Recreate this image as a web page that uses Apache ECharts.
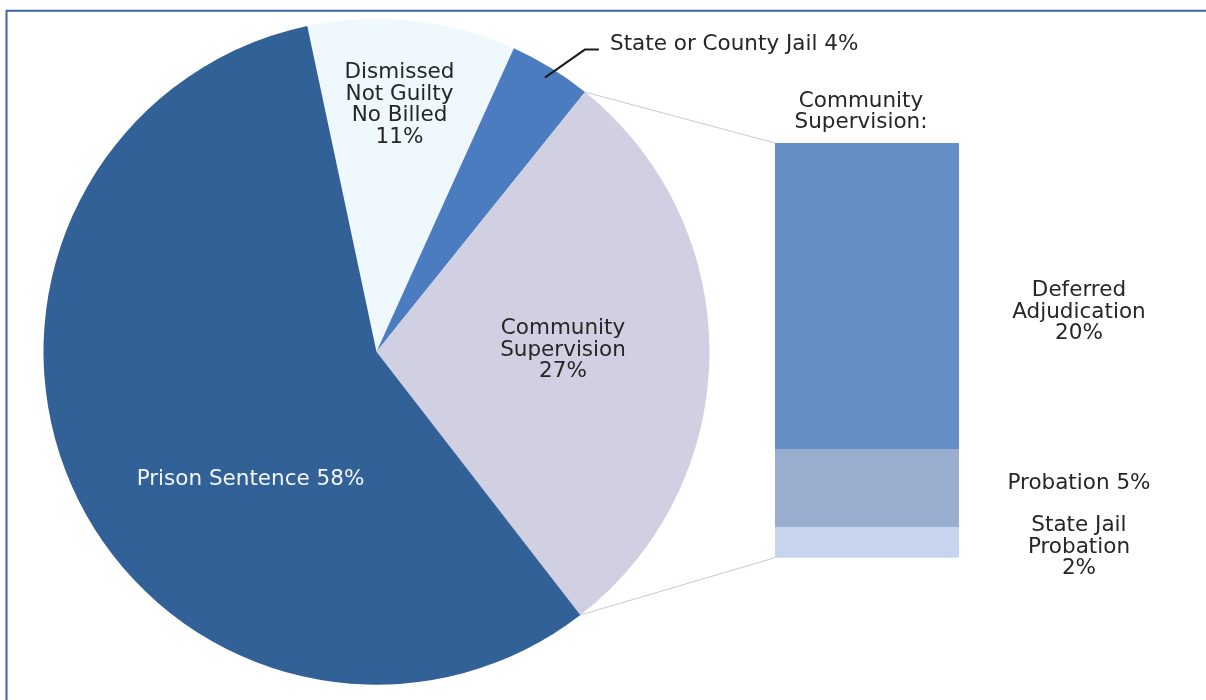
<!DOCTYPE html>
<html><head><meta charset="utf-8">
<script src="https://cdn.jsdelivr.net/npm/echarts@6/dist/echarts.min.js"></script>
<style>html,body{margin:0;padding:0;background:#fff}#c{width:1206px;height:700px}</style>
</head><body><div id="c"></div>
<script>
// ---- data ----
const pieNames = ['Dismissed\nNot Guilty\nNo Billed', 'State or County Jail', 'Community\nSupervision', 'Prison Sentence'];
const pieValues = [10.1, 4.0, 28.75, 57.15];
const pieLabels = ['11%', '4%', '27%', '58%'];
const barTitle = 'Community\nSupervision:';
const barNames = ['State Jail\nProbation', 'Probation', 'Deferred\nAdjudication']; // bottom to top
const barValues = [2.0, 5.1, 20.0];
const barLabels = ['2%', '5%', '20%'];

// ---- styles ----
const pieColors = ['#EFF8FC', '#4A7CBF', '#D1D0E2', '#326198'];
const pieTextColors = ['#262626', '#262626', '#262626', '#F4F6FA'];
const barColors = ['#C6D4EE', '#99ADCE', '#658EC6'];
const FONT = 'DejaVu Sans';
const FS = 21.5, LH = 21.5;
const CX = 376.5, CY = 351.7, R = 333, START = 102;
const GRID = {left: 775, top: 143, width: 184, height: 414.7};
const pieLabelPos = {0: [399.5, 105], 1: [610, 44], 2: [563, 350], 3: [250.5, 479]};
const pieLabelAlign = {0: 'center', 1: 'left', 2: 'center', 3: 'center'};
const barLabelOffset = [[0, 5], [0, -5], [0, 16]];

function lbl(name, pct) { return name + (name.indexOf('\n') >= 0 ? '\n' : ' ') + pct; }

const total = pieValues.reduce((a, b) => a + b, 0);
function angleAt(cum) { return (START - cum / total * 360) * Math.PI / 180; }
function boundary(k) {
  let cum = 0; for (let i = 0; i < k; i++) cum += pieValues[i];
  const a = angleAt(cum);
  return [CX + R * Math.cos(a), CY - R * Math.sin(a)];
}
const pTop = boundary(2), pBot = boundary(3);
// leader line for the small "jail" slice: starts just inside its mid-angle
const jailMid = angleAt(pieValues[0] + pieValues[1] / 2);
const lead0 = [CX + 0.966 * R * Math.cos(jailMid), CY - 0.966 * R * Math.sin(jailMid)];
const lead1 = [lead0[0] + 40, lead0[1] - 28];
const lead2 = [lead1[0] + 14, lead1[1]];
const barSum = barValues.reduce((a, b) => a + b, 0);

const chart = echarts.init(document.getElementById('c'), null, {renderer: 'canvas'});
chart.setOption({
  animation: false,
  backgroundColor: '#ffffff',
  textStyle: {fontFamily: FONT},
  grid: {left: GRID.left, top: GRID.top, width: GRID.width, height: GRID.height, containLabel: false},
  xAxis: {type: 'category', data: ['cs'], show: false},
  yAxis: {type: 'value', min: 0, max: barSum, show: false},
  graphic: [
    {type: 'rect', silent: true, z: -1, shape: {x: 6.5, y: 10.8, width: 1300, height: 800},
     style: {fill: 'none', stroke: '#3A66A3', lineWidth: 2}},
    {type: 'line', silent: true, shape: {x1: pTop[0], y1: pTop[1], x2: GRID.left, y2: GRID.top},
     style: {stroke: '#C9C7DD', lineWidth: 1}},
    {type: 'line', silent: true, shape: {x1: pBot[0], y1: pBot[1], x2: GRID.left, y2: GRID.top + GRID.height},
     style: {stroke: '#C9C7DD', lineWidth: 1}},
    {type: 'polyline', silent: true, z: 100, shape: {points: [lead0, lead1, lead2]},
     style: {stroke: '#1A1A1A', lineWidth: 2, fill: null}},
    {type: 'text', silent: true, x: 861, y: 112,
     style: {text: barTitle, fill: '#262626', font: FS + 'px "' + FONT + '"', lineHeight: LH,
             align: 'center', verticalAlign: 'middle'}}
  ],
  series: [
    {
      type: 'pie',
      center: [CX, CY],
      radius: R,
      startAngle: START,
      clockwise: true,
      avoidLabelOverlap: false,
      itemStyle: {borderWidth: 0},
      label: {
        show: true, position: 'inside', fontFamily: FONT, fontSize: FS, lineHeight: LH,
        formatter: p => lbl(pieNames[p.dataIndex], pieLabels[p.dataIndex])
      },
      labelLine: {show: false},
      labelLayout: function (p) {
        const pos = pieLabelPos[p.dataIndex];
        if (!pos) return {};
        return {x: pos[0], y: pos[1], align: pieLabelAlign[p.dataIndex], verticalAlign: 'middle'};
      },
      emphasis: {disabled: true},
      data: pieValues.map((v, i) => ({
        value: v, name: pieNames[i],
        itemStyle: {color: pieColors[i]},
        label: {color: pieTextColors[i]}
      }))
    }
  ].concat(barValues.map((v, i) => ({
    type: 'bar', stack: 'cs', barWidth: '100%', name: barNames[i],
    itemStyle: {color: barColors[i]},
    emphasis: {disabled: true},
    label: {
      show: true, position: ['165.2%', '50%'], offset: barLabelOffset[i],
      align: 'center', verticalAlign: 'middle',
      fontFamily: FONT, fontSize: FS, lineHeight: LH, color: '#262626',
      formatter: () => lbl(barNames[i], barLabels[i])
    },
    data: [v]
  })))
});
</script>
</body></html>
